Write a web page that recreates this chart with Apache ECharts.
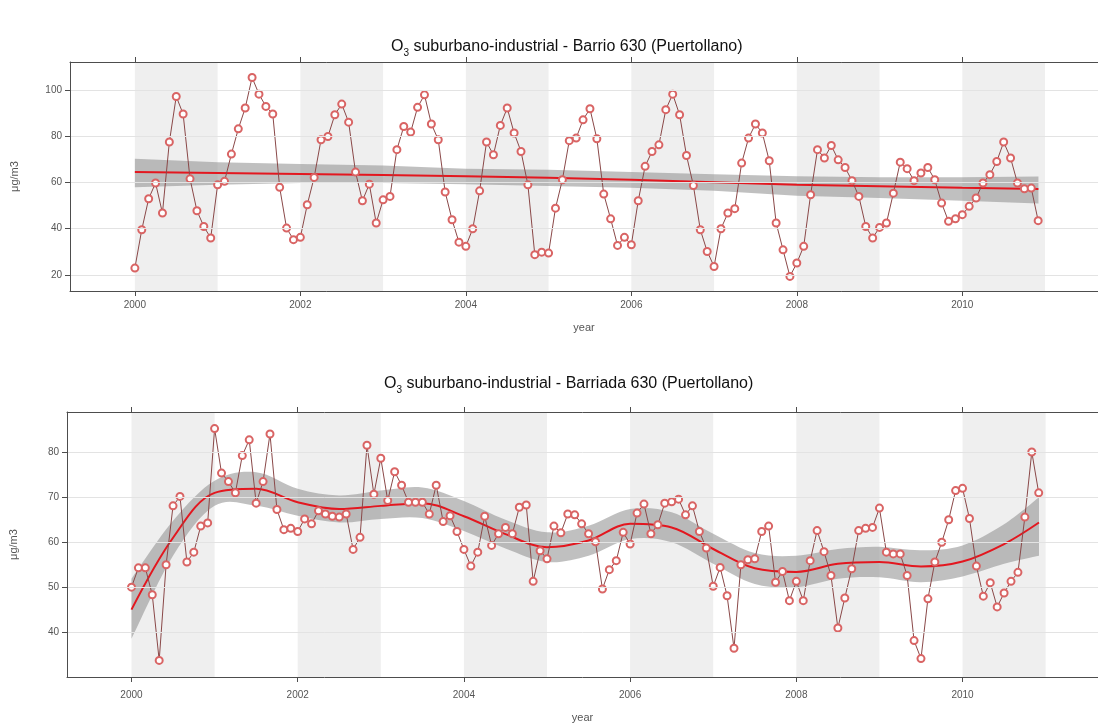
<!DOCTYPE html>
<html><head><meta charset="utf-8">
<script src="https://cdn.jsdelivr.net/npm/echarts@6/dist/echarts.min.js"></script>
<style>html,body{margin:0;padding:0;background:#fff}#c{width:1098px;height:724px}</style>
</head><body><div id="c"></div>
<script>
// ---------------- DATA ----------------
const startYear = 2000; // monthly series, Jan 2000 .. Dec 2010
const xTickYears = [2000, 2002, 2004, 2006, 2008, 2010];
const shadedYears = [2000, 2002, 2004, 2006, 2008, 2010];

// Panel 1: Barrio 630
const topTitleMain = ' suburbano-industrial - Barrio 630 (Puertollano)';
const topYTicks = [20, 40, 60, 80, 100];
const topValues = [
 22.9,39.5,52.9,59.7,46.7,77.4,97.1,89.5,61.5,47.7,40.9,35.9,
 58.9,60.4,72.2,83.1,92.1,105.3,98.1,92.8,89.5,57.8,40.2,35.2,
 36.2,50.3,62.1,78.4,79.8,89.2,93.8,86.0,64.4,52.0,59.2,42.4,
 52.4,53.9,74.1,84.1,81.7,92.4,97.8,85.2,78.4,55.8,43.8,34.1,
 32.3,39.9,56.3,77.4,71.9,84.6,92.1,81.3,73.3,58.9,28.7,29.8,
 29.4,48.8,61.1,78.0,79.1,87.0,91.8,78.8,54.9,44.2,32.7,36.2,
 33.0,52.0,66.9,73.3,76.2,91.4,98.1,89.2,71.6,58.6,39.5,30.1,
 23.6,39.9,46.7,48.6,68.3,79.1,85.2,81.3,69.3,42.4,30.8,19.3,
 25.1,32.3,54.6,74.1,70.5,75.9,69.7,66.4,60.7,53.9,40.9,35.9,
 40.5,42.4,55.3,68.7,65.9,60.7,64.0,66.4,61.1,51.0,43.1,44.2,
 46.0,49.6,53.2,59.7,63.3,69.0,77.4,70.5,59.7,57.2,57.5,43.4
];
const topTrendYears = [2000,2001,2002,2003,2004,2005,2006,2007,2008,2009,2010,2010.92];
const topTrend      = [64.4,64.0,63.6,63.2,62.6,62.0,61.1,60.0,58.9,58.3,57.6,57.1];
const topBandLow    = [57.8,58.9,59.7,59.7,59.2,58.4,57.6,56.3,54.2,53.2,52.0,50.8];
const topBandHigh   = [70.2,68.7,67.9,67.3,65.9,65.4,64.4,63.5,62.6,62.2,62.2,62.5];

// Panel 2: Barriada 630
const botTitleMain = ' suburbano-industrial - Barriada 630 (Puertollano)';
const botYTicks = [40, 50, 60, 70, 80];
const botValues = [
 50.0,54.3,54.3,48.3,33.7,55.0,68.1,70.2,55.6,57.8,63.6,64.3,
 85.3,75.4,73.5,71.0,79.3,82.8,68.7,73.5,84.1,67.3,62.8,63.1,
 62.4,65.2,64.1,67.0,66.3,65.8,65.6,66.3,58.4,61.1,81.6,70.7,
 78.7,69.3,75.7,72.7,68.9,68.9,68.9,66.3,72.7,64.6,65.9,62.4,
 58.4,54.7,57.8,65.8,59.3,61.9,63.3,61.9,67.8,68.3,51.3,58.1,
 56.3,63.6,62.1,66.3,66.1,64.1,61.9,60.1,49.6,53.9,55.9,62.2,
 59.6,66.5,68.5,61.9,63.9,68.7,69.0,69.6,66.1,68.1,62.4,58.7,
 50.2,54.4,48.1,36.4,55.0,56.1,56.3,62.4,63.6,51.1,53.5,47.0,
 51.3,47.0,55.9,62.6,57.9,52.6,40.9,47.6,54.1,62.6,63.1,63.3,
 67.6,57.8,57.4,57.4,52.6,38.1,34.1,47.4,55.6,60.0,65.0,71.5,
 72.0,65.3,54.7,48.0,51.0,45.6,48.7,51.3,53.3,65.6,80.1,71.0
];
const botTrendYears = [2000,2000.5,2001,2001.5,2002,2002.5,2003,2003.5,2004,2004.5,2005,2005.5,
                       2006,2006.5,2007,2007.5,2008,2008.5,2009,2009.5,2010,2010.5,2010.92];
const botTrend    = [45.0,61.0,71.0,71.9,68.9,67.4,68.1,68.7,65.8,61.8,58.9,60.4,
                     64.1,63.3,58.5,54.2,53.4,55.2,55.6,54.6,55.7,59.6,64.4];
const botBandLow  = [38.5,57.0,68.1,68.1,65.9,64.4,65.2,65.4,62.5,58.6,55.6,57.0,
                     60.7,60.0,55.2,50.7,50.0,51.9,52.2,51.1,52.4,55.2,57.0];
const botBandHigh = [51.9,64.8,73.7,75.6,71.9,70.4,71.5,72.2,69.2,65.0,62.2,63.7,
                     67.4,66.7,61.9,57.6,57.0,58.5,59.0,58.2,59.3,64.0,70.0];

// ---------------- CHART ----------------
const chart = echarts.init(document.getElementById('c'), null, {renderer: 'canvas'});
const FONT = 'Liberation Sans, Arial, sans-serif';
const AXC = '#4d4d4d';

function monthly(vals){ return vals.map((v,i)=>[startYear + i/12, v]); }
function pairs(xs, ys){ return xs.map((x,i)=>[x, ys[i]]); }

function titleOpt(main, left, top){
  return {
    text: '{o|O}{s|3}{o|' + main + '}',
    left: left, top: top,
    textStyle: {
      fontFamily: FONT, color: '#000', fontWeight: 'normal',
      rich: {
        o: {fontSize: 16, fontFamily: FONT, color: '#111', fontWeight: 'normal'},
        s: {fontSize: 10, fontFamily: FONT, color: '#111', fontWeight: 'normal', verticalAlign: 'bottom', padding:[0,0,-3,0]}
      }
    }
  };
}

function xAxes(gi, min, max, labelMargin, nameGap){
  const base = {
    type: 'value', gridIndex: gi, min: min, max: max, z: 10,
    splitLine: {show: false},
    axisLine: {show: true, onZero: false, lineStyle: {color: AXC, width: 1}},
    axisTick: {show: true, inside: false, length: 5, customValues: xTickYears, lineStyle: {color: AXC}},
  };
  return [
    Object.assign({}, base, {
      position: 'bottom',
      name: 'year', nameLocation: 'middle', nameGap: nameGap,
      nameTextStyle: {fontFamily: FONT, fontSize: 11, color: '#555'},
      axisLabel: {show: true, customValues: xTickYears, fontFamily: FONT, fontSize: 10, color: '#555', margin: labelMargin,
                  formatter: v => String(Math.round(v))}
    }),
    Object.assign({}, base, {position: 'top', axisLabel: {show: false}})
  ];
}

function yAxis(gi, min, max, ticks, gap){
  return {
    type: 'value', gridIndex: gi, min: min, max: max, z: 10,
    splitLine: {show: false},
    name: 'μg/m3', nameLocation: 'middle', nameRotate: 90, nameGap: gap,
    nameTextStyle: {fontFamily: FONT, fontSize: 11, color: '#555'},
    axisLine: {show: true, onZero: false, lineStyle: {color: AXC, width: 1}},
    axisTick: {show: true, length: 5, customValues: ticks, lineStyle: {color: AXC}},
    axisLabel: {show: true, customValues: ticks, fontFamily: FONT, fontSize: 10, color: '#555', margin: 8}
  };
}

// Catmull-Rom path through pixel points (rendering helper only)
function edgePath(pts, smooth, moveFirst){
  let d = (moveFirst ? 'M' : 'L') + pts[0][0] + ' ' + pts[0][1];
  for (let i = 0; i < pts.length - 1; i++){
    const p0 = pts[Math.max(i-1,0)], p1 = pts[i], p2 = pts[i+1], p3 = pts[Math.min(i+2, pts.length-1)];
    if (smooth){
      const c1 = [p1[0] + (p2[0]-p0[0])/6, p1[1] + (p2[1]-p0[1])/6];
      const c2 = [p2[0] - (p3[0]-p1[0])/6, p2[1] - (p3[1]-p1[1])/6];
      d += ' C' + c1[0] + ' ' + c1[1] + ' ' + c2[0] + ' ' + c2[1] + ' ' + p2[0] + ' ' + p2[1];
    } else {
      d += ' L' + p2[0] + ' ' + p2[1];
    }
  }
  return d;
}

function panelSeries(xi, yi, vals, tYears, trend, lo, hi, smooth, yTicks){
  return [
    { // background year shading and gridlines
      type: 'line', xAxisIndex: xi, yAxisIndex: yi, z: 1,
      data: pairs(tYears, trend), symbol: 'none', lineStyle: {opacity: 0}, silent: true,
      markArea: {
        silent: true, itemStyle: {color: '#efefef'},
        data: shadedYears.map(y => [{xAxis: y}, {xAxis: y + 1}])
      },
      markLine: {
        silent: true, symbol: ['none','none'], label: {show: false},
        lineStyle: {color: '#e3e3e3', type: 'solid', width: 1},
        data: yTicks.map(v => ({yAxis: v}))
      }
    },
    { // confidence band
      type: 'custom', xAxisIndex: xi, yAxisIndex: yi, z: 2, silent: true,
      data: tYears.map((x,i)=>[x, lo[i], hi[i]]),
      encode: {x: 0, y: [1, 2]},
      renderItem: function(params, api){
        if (params.dataIndex !== 0) return null;
        const up = tYears.map((x,i)=>api.coord([x, hi[i]]));
        const dn = tYears.map((x,i)=>api.coord([x, lo[i]])).reverse();
        const d = edgePath(up, smooth, true) + ' ' + edgePath(dn, smooth, false) + ' Z';
        return {type: 'path', shape: {pathData: d}, style: {fill: 'rgba(140,140,140,0.55)', stroke: null}};
      }
    },
    { // trend
      type: 'line', xAxisIndex: xi, yAxisIndex: yi, z: 3,
      data: pairs(tYears, trend), smooth: smooth ? 0.35 : false, symbol: 'none',
      lineStyle: {color: '#e3171f', width: 2}, silent: true
    },
    { // monthly data
      type: 'line', xAxisIndex: xi, yAxisIndex: yi, z: 4,
      data: monthly(vals), symbol: 'emptyCircle', symbolSize: 7,
      lineStyle: {color: '#8a4848', width: 1},
      itemStyle: {color: '#d96464', borderColor: '#d96464', borderWidth: 1},
      silent: true
    }
  ];
}

const [tx0, tx1] = xAxes(0, 1999.216, 2011.64, 9, 31);
const [bx0, bx1] = xAxes(1, 1999.224, 2011.63, 13, 35);

const option = {
  animation: false,
  backgroundColor: '#fff',
  title: [titleOpt(topTitleMain, 386, 34), titleOpt(botTitleMain, 379, 371)],
  grid: [
    {left: 70, top: 62, width: 1030, height: 229, containLabel: false},
    {left: 65, top: 412, width: 1035, height: 265, containLabel: false}
  ],
  xAxis: [tx0, tx1, bx0, bx1],
  yAxis: [yAxis(0, 13, 112, topYTicks, 50), yAxis(1, 30, 89, botYTicks, 48)],
  series: [].concat(
    panelSeries(0, 0, topValues, topTrendYears, topTrend, topBandLow, topBandHigh, false, topYTicks),
    panelSeries(2, 1, botValues, botTrendYears, botTrend, botBandLow, botBandHigh, true, botYTicks)
  )
};
chart.setOption(option);
</script></body></html>
